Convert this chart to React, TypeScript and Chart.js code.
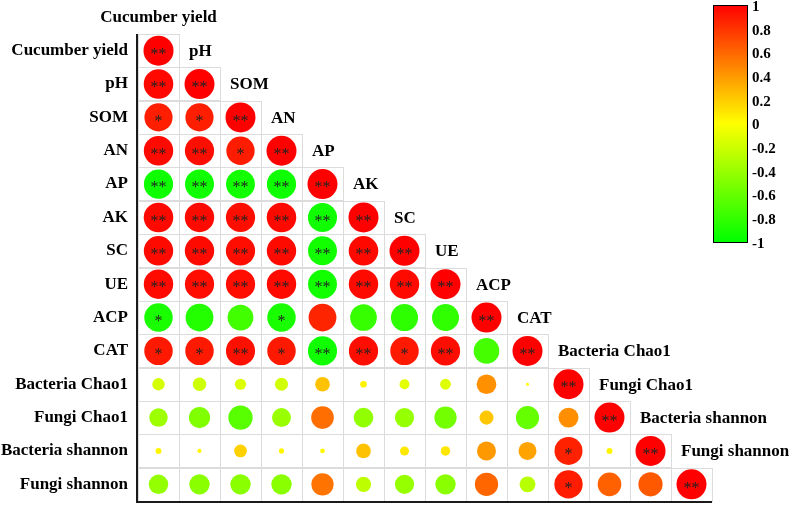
import { useEffect, useRef } from 'react';
import { Chart, registerables } from 'chart.js';

Chart.register(...registerables);

const variables = [
  'Cucumber yield', 'pH', 'SOM', 'AN', 'AP', 'AK', 'SC', 'UE', 'ACP', 'CAT',
  'Bacteria Chao1', 'Fungi Chao1', 'Bacteria shannon', 'Fungi shannon',
];

// Lower triangle of the correlation matrix (row i holds columns 0..i)
const corrRow0 = [1];
const corrRow1 = [0.97, 1];
const corrRow2 = [0.88, 0.88, 1];
const corrRow3 = [0.96, 0.95, 0.89, 1];
const corrRow4 = [-0.95, -0.94, -0.93, -0.95, 1];
const corrRow5 = [0.97, 0.96, 0.95, 0.97, -0.94, 1];
const corrRow6 = [0.96, 0.96, 0.95, 0.96, -0.93, 0.97, 1];
const corrRow7 = [0.96, 0.95, 0.95, 0.96, -0.93, 0.96, 0.96, 1];
const corrRow8 = [-0.9, -0.86, -0.74, -0.9, 0.86, -0.79, -0.82, -0.81, 1];
const corrRow9 = [0.9, 0.9, 0.94, 0.9, -0.94, 0.95, 0.9, 0.95, -0.73, 1];
const corrRow10 = [-0.17, -0.2, -0.14, -0.19, 0.24, 0.05, -0.11, -0.13, 0.43, 0.01, 1];
const corrRow11 = [-0.38, -0.5, -0.66, -0.4, 0.57, -0.43, -0.41, -0.55, 0.22, -0.6, 0.44, 1];
const corrRow12 = [0.04, 0.02, 0.18, 0.03, 0.025, 0.24, 0.09, 0.1, 0.4, 0.36, 0.87, 0.04, 1];
const corrRow13 = [-0.42, -0.46, -0.46, -0.46, 0.55, -0.26, -0.41, -0.46, 0.6, -0.28, 0.89, 0.62, 0.65, 1];

const corrRows = [
  corrRow0, corrRow1, corrRow2, corrRow3, corrRow4, corrRow5, corrRow6,
  corrRow7, corrRow8, corrRow9, corrRow10, corrRow11, corrRow12, corrRow13,
];

// Significance marks, same shape as the correlation rows
const starRow0 = ['**'];
const starRow1 = ['**', '**'];
const starRow2 = ['*', '*', '**'];
const starRow3 = ['**', '**', '*', '**'];
const starRow4 = ['**', '**', '**', '**', '**'];
const starRow5 = ['**', '**', '**', '**', '**', '**'];
const starRow6 = ['**', '**', '**', '**', '**', '**', '**'];
const starRow7 = ['**', '**', '**', '**', '**', '**', '**', '**'];
const starRow8 = ['*', '', '', '*', '', '', '', '', '**'];
const starRow9 = ['*', '*', '**', '*', '**', '**', '*', '**', '', '**'];
const starRow10 = ['', '', '', '', '', '', '', '', '', '', '**'];
const starRow11 = ['', '', '', '', '', '', '', '', '', '', '', '**'];
const starRow12 = ['', '', '', '', '', '', '', '', '', '', '*', '', '**'];
const starRow13 = ['', '', '', '', '', '', '', '', '', '', '*', '', '', '**'];

const starRows = [
  starRow0, starRow1, starRow2, starRow3, starRow4, starRow5, starRow6,
  starRow7, starRow8, starRow9, starRow10, starRow11, starRow12, starRow13,
];

const colorbarTicks = [1, 0.8, 0.6, 0.4, 0.2, 0, -0.2, -0.4, -0.6, -0.8, -1];
const colorbarLabels = ['1', '0.8', '0.6', '0.4', '0.2', '0', '-0.2', '-0.4', '-0.6', '-0.8', '-1'];

const SERIF = '"Liberation Serif", "Times New Roman", serif';

function corrColor(v: number): string {
  if (v >= 0) return `rgb(255, ${Math.round(255 * (1 - v))}, 0)`;
  return `rgb(${Math.round(255 * (1 + v))}, 255, 0)`;
}

const corrPlugin = {
  id: 'corrPlugin',
  beforeDatasetsDraw(chart: any) {
    const ctx = chart.ctx;
    const xs = chart.scales.x;
    const ys = chart.scales.y;
    ctx.save();
    ctx.strokeStyle = '#dcdcdc';
    ctx.lineWidth = 1;
    corrRows.forEach((row, i) => {
      row.forEach((_v, j) => {
        const x0 = xs.getPixelForValue(j - 0.5);
        const x1 = xs.getPixelForValue(j + 0.5);
        const y0 = ys.getPixelForValue(i - 0.5);
        const y1 = ys.getPixelForValue(i + 0.5);
        ctx.strokeRect(Math.round(x0) + 0.5, Math.round(y0) + 0.5, Math.round(x1 - x0), Math.round(y1 - y0));
      });
    });
    ctx.restore();
  },
  afterDatasetsDraw(chart: any) {
    const ctx = chart.ctx;
    const xs = chart.scales.x;
    const ys = chart.scales.y;
    const area = chart.chartArea;
    ctx.save();

    // significance stars
    ctx.fillStyle = '#222';
    ctx.font = `16px ${SERIF}`;
    ctx.textAlign = 'center';
    ctx.textBaseline = 'middle';
    starRows.forEach((row, i) => {
      row.forEach((s, j) => {
        if (!s) return;
        ctx.fillText(s, xs.getPixelForValue(j), ys.getPixelForValue(i) + 4);
      });
    });

    // diagonal labels
    ctx.fillStyle = '#000';
    ctx.font = `bold 17px ${SERIF}`;
    ctx.textAlign = 'left';
    ctx.textBaseline = 'middle';
    const topLabel = variables[0];
    const tw = ctx.measureText(topLabel).width;
    ctx.fillText(topLabel, xs.getPixelForValue(0) - tw / 2, area.top - 16);
    for (let k = 1; k < variables.length; k++) {
      const name = variables[k];
      const w = ctx.measureText(name).width;
      const left = xs.getPixelForValue(k - 0.5);
      const center = xs.getPixelForValue(k);
      let x = Math.max(center - w / 2, left + 10);
      x = Math.min(x, chart.width - w);
      ctx.fillText(name, x, ys.getPixelForValue(k - 1) + 1);
    }

    // axis lines
    ctx.fillStyle = '#1a1a1a';
    ctx.fillRect(area.left - 2, area.top, 2, area.bottom - area.top + 2);
    ctx.fillRect(area.left - 2, area.bottom, area.right - area.left + 2, 2);

    // colour bar
    const cbX = area.right + 1;
    const cbW = 34;
    const cbTop = 5;
    const cbBottom = 242;
    const grad = ctx.createLinearGradient(0, cbTop, 0, cbBottom);
    grad.addColorStop(0, corrColor(1));
    grad.addColorStop(0.5, corrColor(0));
    grad.addColorStop(1, corrColor(-1));
    ctx.fillStyle = grad;
    ctx.fillRect(cbX, cbTop, cbW, cbBottom - cbTop);
    ctx.strokeStyle = '#000';
    ctx.lineWidth = 1;
    ctx.strokeRect(cbX + 0.5, cbTop + 0.5, cbW, cbBottom - cbTop);
    ctx.fillStyle = '#000';
    ctx.font = `bold 15px ${SERIF}`;
    ctx.textAlign = 'left';
    ctx.textBaseline = 'middle';
    colorbarTicks.forEach((t, idx) => {
      const y = 125.5 - t * 118.5;
      ctx.fillText(colorbarLabels[idx], cbX + cbW + 5, y);
    });

    ctx.restore();
  },
};

export default function App() {
  const canvasRef = useRef<HTMLCanvasElement | null>(null);

  useEffect(() => {
    const canvas = canvasRef.current;
    if (!canvas) return;
    const points: any[] = [];
    corrRows.forEach((row, i) => {
      row.forEach((v, j) => {
        points.push({ x: variables[j], y: variables[i], r: 15 * Math.sqrt(Math.abs(v)), v });
      });
    });
    const chart = new Chart(canvas, {
      type: 'bubble',
      data: {
        datasets: [
          {
            data: points,
            backgroundColor: (c: any) => corrColor(c.raw ? c.raw.v : 0),
            borderWidth: 0,
            hoverRadius: 0,
            clip: false,
          } as any,
        ],
      },
      options: {
        responsive: false,
        animation: false,
        events: [],
        layout: { autoPadding: false, padding: { top: 34, right: 80, bottom: 4, left: 0 } },
        plugins: {
          legend: { display: false },
          tooltip: { enabled: false },
        },
        scales: {
          x: {
            type: 'category',
            labels: variables,
            offset: true,
            display: false,
          },
          y: {
            type: 'category',
            labels: variables,
            offset: true,
            grid: { display: false, drawTicks: false },
            border: { display: false },
            ticks: {
              autoSkip: false,
              padding: 10,
              color: '#000',
              font: { family: SERIF, size: 17, weight: 'bold' },
            },
            afterFit: (s: any) => {
              s.width = 138;
              s.paddingTop = 0;
              s.paddingBottom = 0;
            },
          },
        },
      } as any,
      plugins: [corrPlugin],
    });
    return () => chart.destroy();
  }, []);

  return (
    <div style={{ position: 'fixed', left: 0, top: 0, width: 792, height: 505, background: '#fff' }}>
      <canvas ref={canvasRef} width={792} height={505} style={{ display: 'block' }} />
    </div>
  );
}
